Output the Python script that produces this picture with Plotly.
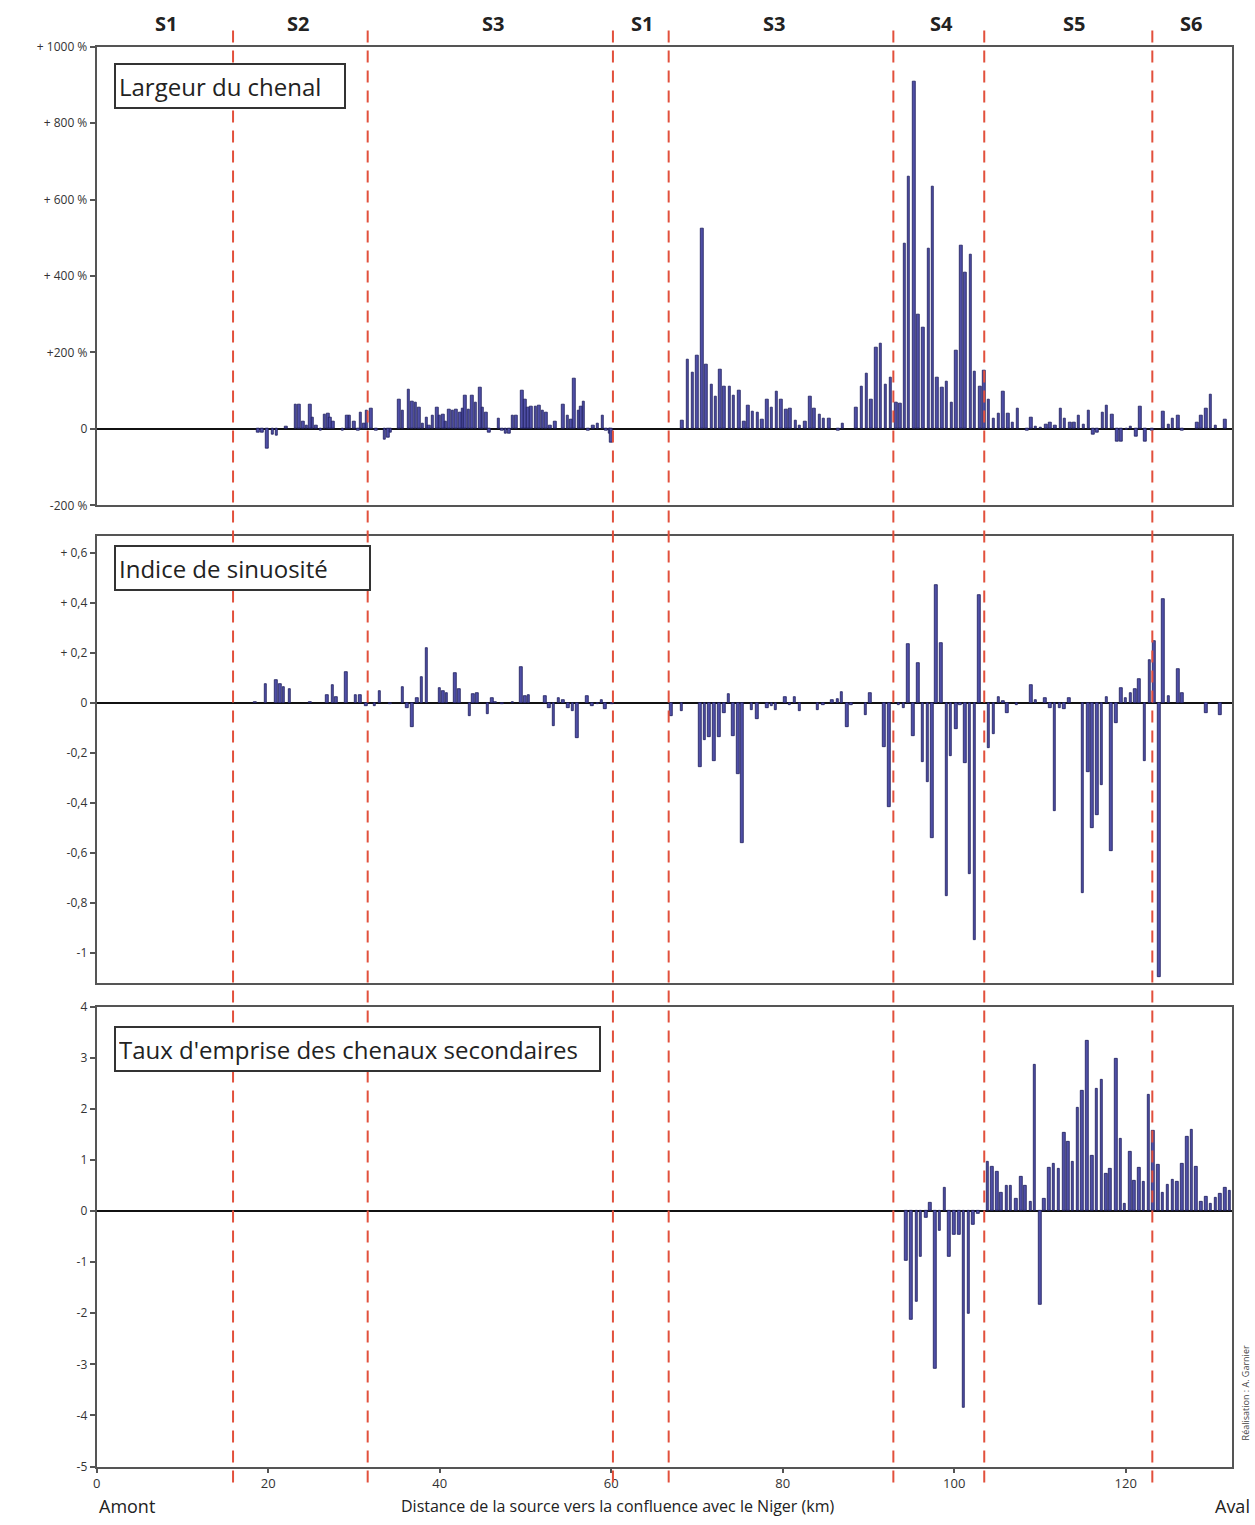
import plotly.graph_objects as go

# ---------------- DATA ----------------
# Panel 1 : Largeur du chenal (variation en %)
larg_km = [18.8, 19.3, 19.9, 20.5, 21.0, 22.1, 23.2, 23.6, 24.1, 24.5, 24.9, 25.2, 25.6, 26.1, 26.6, 27.0, 27.2, 27.6,
           28.7, 29.2, 29.5, 30.0, 30.5, 30.8, 31.2, 31.5, 32.0, 32.6, 33.6, 34.0, 34.3, 35.3, 35.7, 36.4, 36.8, 37.2,
           37.6, 38.0, 38.5, 38.8, 39.2, 39.7, 40.0, 40.4, 40.7, 41.1, 41.5, 41.9, 42.4, 42.7, 43.0, 43.4, 43.8, 44.2,
           44.7, 45.0, 45.4, 45.8, 46.9, 47.3, 47.7, 48.1, 48.5, 48.9, 49.6, 50.0, 50.3, 50.7, 51.2, 51.6, 52.0, 52.4,
           52.9, 53.5, 54.4, 54.9, 55.3, 55.7, 56.2, 56.5, 56.8, 57.3, 57.9, 58.4, 59.0, 59.4, 59.8, 60.0,
           68.3, 68.9, 69.5, 70.0, 70.6, 71.1, 71.7, 72.2, 72.7, 73.2, 73.8, 74.3, 74.9, 75.5, 76.0, 76.5, 77.1, 77.6,
           78.2, 78.7, 79.3, 79.8, 80.4, 80.9, 81.5, 82.0, 82.6, 83.2, 83.7, 84.3, 84.8, 85.4, 86.5, 87.0,
           88.6, 89.2, 89.8, 90.3, 90.9, 91.4, 92.0, 92.6, 93.2, 93.7, 94.2, 94.7, 95.3, 95.8, 96.4, 97.0, 97.5, 98.0,
           98.6, 99.1, 99.7, 100.2, 100.8, 101.3, 101.9, 102.4, 103.0, 103.5, 104.0, 104.6, 105.2, 105.7, 106.3, 106.8,
           107.4, 108.5, 109.0, 109.5, 110.1, 110.7, 111.2, 111.8, 112.4, 112.9, 113.5, 114.0, 114.5, 115.1, 115.7,
           116.2, 116.7, 117.3, 117.8, 118.4, 119.0, 119.5, 120.1, 120.6, 121.2, 121.7, 122.3, 123.1, 124.4, 125.0,
           125.5, 126.1, 126.6, 128.3, 128.8, 129.4, 129.9, 130.5, 131.6]
larg_val = [-10, -9, -52, -15, -18, 7, 65, 65, 18, 8, 64, 29, 8, -3, 38, 40, 29, 20,
            -5, 36, 36, 20, -5, 42, 15, 49, 52, -5, -27, -22, -10, 77, 47, 103, 72, 68,
            55, 15, 29, 10, 34, 55, 35, 38, 18, 51, 49, 51, 42, 53, 87, 51, 87, 68,
            107, 55, 42, -10, 27, -5, -12, -12, 34, 34, 101, 77, 55, 58, 58, 61, 47, 44,
            10, 20, 64, 34, 25, 133, 47, 58, 72, -5, 10, 15, 34, -5, -12, -35,
            22, 181, 147, 192, 524, 168, 115, 85, 156, 112, 112, 87, 100, 20, 60, 46, 43, 24,
            76, 57, 97, 78, 50, 54, 22, 9, 20, 85, 54, 37, 26, 26, -3, 14,
            57, 110, 145, 76, 212, 224, 115, 135, 69, 66, 486, 661, 908, 300, 266, 471, 635, 135,
            109, 123, 69, 204, 480, 408, 457, 149, 112, 152, 76, 28, 40, 97, 41, 16,
            54, -3, 31, 5, 3, 11, 17, 9, 52, 26, 16, 17, 34, 11, 48,
            -15, -10, 43, 60, 37, -34, -34, -2, 5, -21, 59, -32, -3, 46, 11,
            28, 34, -3, 17, 34, 52, 91, 9, 24]

# Panel 2 : Indice de sinuosité (variation)
sinu_km = [18.5, 19.7, 20.9, 21.4, 21.8, 22.5, 24.9, 26.9, 27.5, 27.9, 29.1, 30.2, 30.7, 31.4, 32.4, 33.0, 34.2,
           35.7, 36.2, 36.8, 37.4, 37.9, 38.5, 40.0, 40.4, 40.8, 41.8, 42.3, 43.5, 43.9, 44.4, 45.6, 46.1, 46.5,
           47.3, 48.5, 49.5, 50.0, 50.4, 52.3, 52.8, 53.3, 53.9, 54.4, 55.0, 55.5, 56.0, 57.2, 57.8, 58.4, 58.9,
           59.3, 60.1,
           67.0, 68.2, 70.4, 70.9, 71.4, 72.0, 72.6, 73.2, 73.7, 74.2, 74.8, 75.3, 76.4, 77.0, 78.2, 78.7, 79.2,
           80.3, 80.8, 81.4, 82.0, 84.1, 84.7, 85.8, 86.4, 86.9, 87.5, 88.0, 89.7, 90.2, 91.8, 92.4, 93.5, 94.1,
           94.6, 95.2, 95.8, 96.3, 96.9, 97.4, 97.9, 98.5, 99.1, 99.6, 100.2, 100.7, 101.3, 101.8, 102.4, 102.9,
           104.0, 104.6, 105.2, 105.7, 106.2, 107.3, 109.0, 109.5, 110.6, 111.2, 111.7, 112.3, 112.8, 113.4,
           115.0, 115.6, 116.1, 116.7, 117.2, 117.8, 118.3, 118.9, 119.5, 120.0, 120.6, 121.1, 121.6, 122.2,
           122.8, 123.3, 123.9, 124.4, 125.0, 126.1, 126.6, 129.4, 131.0]
sinu_val = [0.005, 0.076, 0.094, 0.076, 0.063, 0.058, 0.005, 0.034, 0.071, 0.024, 0.124, 0.032, 0.032, -0.012,
            -0.012, 0.047, -0.003, 0.063, -0.018, -0.095, 0.021, 0.104, 0.221, 0.061, 0.05, 0.041, 0.12, 0.058,
            -0.051, 0.037, 0.041, -0.045, 0.021, 0.005, -0.003, 0.005, 0.146, 0.028, 0.034, 0.028, -0.018, -0.091,
            0.021, 0.011, -0.018, -0.032, -0.14, 0.028, -0.012, -0.005, 0.011, -0.025, -0.005,
            -0.053, -0.033, -0.257, -0.149, -0.136, -0.231, -0.136, -0.04, 0.036, -0.132, -0.283, -0.56, -0.026,
            -0.062, -0.02, -0.013, -0.026, 0.026, -0.007, 0.026, -0.03, -0.026, -0.009, 0.013, 0.017, 0.046,
            -0.095, -0.007, -0.049, 0.04, -0.175, -0.415, -0.007, -0.02, 0.237, -0.132, 0.162, -0.237, -0.316,
            -0.54, 0.474, 0.241, -0.773, -0.211, -0.105, -0.007, -0.241, -0.685, -0.949, 0.431,
            -0.178, -0.123, 0.026, 0.009, -0.04, -0.007, 0.072, 0.013, 0.02, -0.02, -0.431, -0.02, -0.022, 0.02,
            -0.758, -0.277, -0.5, -0.448, -0.329, 0.026, -0.593, -0.079, 0.062, 0.02, 0.04, 0.057, 0.096, -0.231,
            0.171, 0.25, -1.094, 0.415, 0.03, 0.136, 0.042, -0.04, -0.046]

# Panel 3 : Taux d'emprise des chenaux secondaires
taux_km = [94.4, 95.0, 95.6, 96.1, 96.7, 97.2, 97.8, 98.3, 98.9, 99.4, 100.0, 100.6, 101.1, 101.7, 102.2, 102.8,
           103.9, 104.4, 105.0, 105.5, 106.1, 106.6, 107.2, 107.8, 108.3, 108.9, 109.4, 110.0, 110.5, 111.1,
           111.6, 112.2, 112.8, 113.3, 113.8, 114.4, 114.9, 115.5, 116.1, 116.6, 117.2, 117.7, 118.2, 118.9,
           119.4, 119.9, 120.5, 121.0, 121.6, 122.1, 122.7, 123.2, 123.8, 124.3, 124.9, 125.5, 126.0, 126.6,
           127.2, 127.7, 128.2, 128.8, 129.4, 129.9, 130.5, 131.0, 131.6, 132.1]
taux_val = [-0.98, -2.12, -1.78, -0.89, -0.13, 0.16, -3.09, -0.39, 0.45, -0.89, -0.47, -0.47, -3.85, -2.01, -0.26,
            -0.05, 0.96, 0.87, 0.78, 0.36, 0.5, 0.5, 0.25, 0.68, 0.5, 0.19, 2.86, -1.83, 0.25, 0.85,
            0.92, 0.83, 1.54, 1.35, 0.96, 2.02, 2.36, 3.33, 1.09, 2.39, 2.58, 0.74, 0.83, 2.98,
            1.41, 0.14, 1.17, 0.6, 0.84, 0.58, 2.27, 1.57, 0.91, 0.36, 0.52, 0.61, 0.58, 0.92,
            1.46, 1.59, 0.87, 0.19, 0.29, 0.14, 0.26, 0.34, 0.45, 0.39]

# Segment limits (km) and segment labels
limits_km = [15.9, 31.6, 60.2, 66.7, 92.9, 103.5, 123.1]
seg_names = ["S1", "S2", "S3", "S1", "S3", "S4", "S5", "S6"]
seg_km = [8.1, 23.5, 46.2, 63.6, 79.0, 98.5, 114.0, 127.6]

x_ticks = [0, 20, 40, 60, 80, 100, 120]
y1_ticks = [-200, 0, 200, 400, 600, 800, 1000]
y1_text = ["-200 %", "0", "+200 %", "+ 400 %", "+ 600 %", "+ 800 %", "+ 1000 %"]
y2_ticks = [-1, -0.8, -0.6, -0.4, -0.2, 0, 0.2, 0.4, 0.6]
y2_text = ["-1", "-0,8", "-0,6", "-0,4", "-0,2", "0", "+ 0,2", "+ 0,4", "+ 0,6"]
y3_ticks = [-5, -4, -3, -2, -1, 0, 1, 2, 3, 4]

titles = ["Largeur du chenal", "Indice de sinuosité", "Taux d'emprise des chenaux secondaires"]

# ---------------- FIGURE ----------------
W, H = 1255, 1525
XDOM = [93 / W, 1232 / W]
XR = [0, 132.4]
DOMS = [[1 - 502 / H, 1 - 38 / H], [1 - 985 / H, 1 - 533 / H], [1 - 1474 / H, 1 - 1009 / H]]

bar_fill = "#4f4fa6"
bar_line = "#1d1d5c"
frame = "#555555"
tickfont = dict(family="Open Sans", size=12, color="#333333")

fig = go.Figure()
for i, (xs, ys) in enumerate([(larg_km, larg_val), (sinu_km, sinu_val), (taux_km, taux_val)]):
    sfx = "" if i == 0 else str(i + 1)
    fig.add_trace(go.Bar(x=xs, y=ys, width=0.3, xaxis="x" + sfx, yaxis="y" + sfx,
                         marker=dict(color=bar_fill, line=dict(color=bar_line, width=0.8)),
                         showlegend=False, hoverinfo="x+y"))

ax_common = dict(range=XR, domain=XDOM, showline=True, mirror=True, linecolor=frame, linewidth=2,
                 showgrid=False, zeroline=False, fixedrange=True)
lay = dict(
    width=W, height=H, margin=dict(l=0, r=0, t=0, b=0),
    paper_bgcolor="white", plot_bgcolor="white", bargap=0,
    xaxis=dict(**ax_common, anchor="y", showticklabels=False, ticks=""),
    xaxis2=dict(**ax_common, anchor="y2", showticklabels=False, ticks=""),
    xaxis3=dict(**ax_common, anchor="y3", tickvals=x_ticks, ticks="outside", ticklen=4, tickwidth=2,
                tickcolor=frame, tickfont=dict(family="Open Sans", size=13, color="#333333")),
)
yspecs = [([-200, 1000], y1_ticks, y1_text), ([-1.119, 0.668], y2_ticks, y2_text),
          ([-5, 4], y3_ticks, [str(v) for v in y3_ticks])]
for i, (rng, tv, tt) in enumerate(yspecs):
    sfx = "" if i == 0 else str(i + 1)
    lay["yaxis" + sfx] = dict(range=rng, domain=DOMS[i], anchor="x" + sfx, tickvals=tv, ticktext=tt,
                              ticks="outside", ticklen=5, tickwidth=2, tickcolor=frame, tickfont=tickfont,
                              showline=True, mirror=True, linecolor=frame, linewidth=2, showgrid=False,
                              zeroline=True, zerolinecolor="#111111", zerolinewidth=1.5, fixedrange=True)
fig.update_layout(**lay)

# dashed segment limits
for k in limits_km:
    fig.add_shape(type="line", xref="x3", yref="paper", x0=k, x1=k, y0=1 - 1490 / H, y1=1 - 20 / H,
                  line=dict(color="#e2503c", width=2, dash="12px,8px"), layer="above")

# segment labels
for name, k in zip(seg_names, seg_km):
    fig.add_annotation(x=k, xref="x3", y=1 - 15 / H, yref="paper", text="<b>" + name + "</b>",
                       showarrow=False, font=dict(family="Open Sans", size=20, color="#222222"),
                       xanchor="center", yanchor="middle")

# panel title boxes
boxes = [(55, 222), (542, 247), (1028, 477)]
for t, (ytop, wbox) in zip(titles, boxes):
    fig.add_annotation(x=110 / W, xref="paper", y=1 - ytop / H, yref="paper", text=t, showarrow=False,
                       xanchor="left", yanchor="top", align="left", width=wbox, height=36,
                       font=dict(family="Open Sans", size=24, color="#222222"),
                       bordercolor="#333333", borderwidth=2, borderpad=3, bgcolor="white")

# bottom texts
fig.add_annotation(x=93 / W, xref="paper", y=1 - 1514 / H, yref="paper", text="Amont", showarrow=False,
                   xanchor="left", yanchor="middle", font=dict(family="Open Sans", size=18, color="#222222"))
fig.add_annotation(x=1252 / W, xref="paper", y=1 - 1514 / H, yref="paper", text="Aval", showarrow=False,
                   xanchor="right", yanchor="middle", font=dict(family="Open Sans", size=18, color="#222222"))
fig.add_annotation(x=615 / W, xref="paper", y=1 - 1514 / H, yref="paper",
                   text="Distance de la source vers la confluence avec le Niger (km)", showarrow=False,
                   xanchor="center", yanchor="middle", font=dict(family="Open Sans", size=16, color="#222222"))
fig.add_annotation(x=1245 / W, xref="paper", y=1 - 1400 / H, yref="paper", text="Réalisation : A. Garnier",
                   showarrow=False, textangle=-90, xanchor="center", yanchor="middle",
                   font=dict(family="Open Sans", size=9, color="#444444"))

fig.write_html("out.html", config={"displayModeBar": False},
               post_script="document.body.style.margin='0px';")
